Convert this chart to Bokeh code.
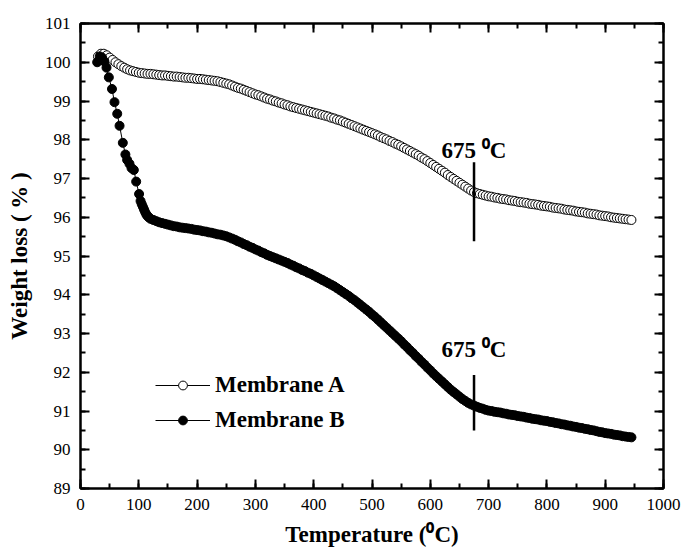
from bokeh.plotting import figure
from bokeh.models import (Range1d, LinearAxis, SingleIntervalTicker, Legend,
                          LegendItem, ColumnDataSource, CustomJSTickFormatter)
from bokeh.core.properties import value
from bokeh.embed import file_html
from bokeh.resources import INLINE

# ---------------- data ----------------
# Membrane A: sampled every 5 degC from 30 to 945 degC
a_temp = list(range(30, 950, 5))
a_loss = [
    100.15, 100.22, 100.22, 100.18, 100.12, 100.06, 100.00, 99.95, 99.90, 99.86,
    99.82, 99.79, 99.77, 99.75, 99.73, 99.72, 99.71, 99.70, 99.70, 99.69,
    99.68, 99.67, 99.66, 99.66, 99.65, 99.64, 99.63, 99.63, 99.62, 99.61,
    99.60, 99.60, 99.59, 99.58, 99.57, 99.57, 99.56, 99.55, 99.54, 99.53,
    99.52, 99.51, 99.49, 99.47, 99.45, 99.43, 99.40, 99.37, 99.34, 99.32,
    99.29, 99.26, 99.23, 99.20, 99.17, 99.15, 99.12, 99.09, 99.06, 99.04,
    99.01, 98.99, 98.96, 98.94, 98.91, 98.89, 98.86, 98.84, 98.82, 98.80,
    98.78, 98.76, 98.74, 98.72, 98.70, 98.68, 98.66, 98.64, 98.62, 98.60,
    98.57, 98.55, 98.52, 98.50, 98.47, 98.44, 98.41, 98.38, 98.35, 98.32,
    98.29, 98.26, 98.23, 98.20, 98.17, 98.14, 98.11, 98.07, 98.04, 98.01,
    97.97, 97.94, 97.90, 97.87, 97.83, 97.79, 97.75, 97.71, 97.67, 97.63,
    97.59, 97.54, 97.50, 97.45, 97.40, 97.35, 97.30, 97.25, 97.20, 97.15,
    97.09, 97.04, 96.99, 96.94, 96.89, 96.84, 96.79, 96.74, 96.69, 96.65,
    96.62, 96.60, 96.58, 96.56, 96.54, 96.53, 96.51, 96.50, 96.48, 96.47,
    96.46, 96.44, 96.43, 96.42, 96.40, 96.39, 96.38, 96.37, 96.35, 96.34,
    96.33, 96.32, 96.30, 96.29, 96.28, 96.27, 96.25, 96.24, 96.23, 96.22,
    96.20, 96.19, 96.18, 96.17, 96.15, 96.14, 96.13, 96.12, 96.10, 96.09,
    96.08, 96.07, 96.05, 96.04, 96.03, 96.02, 96.00, 95.99, 95.98, 95.97,
    95.96, 95.95, 95.94, 95.93,
]

# Membrane B: separate early points, then every 5 degC from 125 to 945 degC
b_temp_early = [28.6, 33, 37, 41, 44.6, 48.6, 54, 58.3, 63, 67,
                72.6, 77, 80, 84, 87.5, 91.5, 95.5, 100.5, 103, 105,
                107, 109, 111, 113, 115, 117, 120]
b_loss_early = [100.00, 100.15, 100.12, 100.02, 99.86, 99.61, 99.31, 98.97, 98.67, 98.36,
                97.92, 97.62, 97.48, 97.38, 97.27, 97.22, 96.92, 96.60, 96.42, 96.34,
                96.27, 96.20, 96.13, 96.07, 96.03, 96.00, 95.96]
b_temp_dense = list(range(125, 950, 5))
b_loss_dense = [
    95.93, 95.90, 95.87, 95.85, 95.83, 95.81, 95.79, 95.77, 95.76, 95.74,
    95.73, 95.72, 95.71, 95.70, 95.68, 95.67, 95.66, 95.64, 95.63, 95.61,
    95.60, 95.58, 95.56, 95.55, 95.53, 95.51, 95.48, 95.45, 95.42, 95.38,
    95.35, 95.31, 95.28, 95.24, 95.21, 95.17, 95.14, 95.10, 95.07, 95.03,
    95.00, 94.97, 94.94, 94.91, 94.88, 94.85, 94.82, 94.78, 94.75, 94.71,
    94.68, 94.64, 94.61, 94.57, 94.54, 94.50, 94.46, 94.42, 94.38, 94.34,
    94.30, 94.26, 94.22, 94.17, 94.12, 94.07, 94.02, 93.97, 93.91, 93.86,
    93.80, 93.74, 93.68, 93.62, 93.56, 93.49, 93.43, 93.36, 93.29, 93.22,
    93.15, 93.08, 93.01, 92.94, 92.87, 92.80, 92.72, 92.65, 92.57, 92.50,
    92.42, 92.35, 92.27, 92.20, 92.12, 92.05, 91.97, 91.90, 91.83, 91.76,
    91.69, 91.62, 91.55, 91.49, 91.43, 91.37, 91.31, 91.26, 91.21, 91.17,
    91.14, 91.11, 91.08, 91.06, 91.03, 91.01, 91.00, 90.98, 90.97, 90.96,
    90.94, 90.93, 90.91, 90.90, 90.89, 90.87, 90.86, 90.85, 90.83, 90.82,
    90.80, 90.79, 90.78, 90.76, 90.75, 90.74, 90.72, 90.71, 90.69, 90.68,
    90.66, 90.65, 90.63, 90.62, 90.60, 90.59, 90.57, 90.56, 90.54, 90.53,
    90.51, 90.50, 90.48, 90.46, 90.45, 90.43, 90.42, 90.41, 90.39, 90.38,
    90.37, 90.35, 90.34, 90.33, 90.32,
]
b_temp = b_temp_early + b_temp_dense
b_loss = b_loss_early + b_loss_dense

# 675 degC markers
mark_temp = [675, 675]
mark_top = [97.42, 91.93]
mark_bottom = [95.38, 90.50]
label_loss = [97.72, 92.58]
label_text = ["675 \u2070C", "675 \u2070C"]

series_names = ["Membrane A", "Membrane B"]

SERIF = "Liberation Serif"
BOLD_SIZE = "23px"

# ---------------- figure ----------------
p = figure(width=683, height=557, x_range=Range1d(0, 1000), y_range=Range1d(89, 101),
           output_backend="svg", toolbar_location=None,
           min_border_left=80, min_border_right=20, min_border_top=23, min_border_bottom=69,
           background_fill_color="white", border_fill_color="white")
p.grid.visible = False
p.outline_line_color = "black"
p.outline_line_width = 2

p.xaxis.ticker = SingleIntervalTicker(interval=100, num_minor_ticks=2)
p.yaxis.ticker = SingleIntervalTicker(interval=1, num_minor_ticks=2)
p.xaxis.axis_label = "Temperature (\u2070C)"
p.yaxis.axis_label = "Weight loss ( % )"

for ax in list(p.xaxis) + list(p.yaxis):
    ax.axis_line_width = 2
    ax.axis_line_color = "black"
    ax.major_tick_in = 9
    ax.major_tick_out = 0
    ax.minor_tick_in = 5
    ax.minor_tick_out = 0
    ax.major_tick_line_width = 2
    ax.minor_tick_line_width = 2
    ax.major_label_text_font = SERIF
    ax.major_label_text_font_size = "17px"
    ax.major_label_text_color = "black"
    ax.major_label_standoff = 10
    ax.axis_label_text_font = SERIF
    ax.axis_label_text_font_style = "bold"
    ax.axis_label_text_font_size = BOLD_SIZE
    ax.axis_label_text_color = "black"
p.xaxis.axis_label_standoff = 9
p.yaxis.axis_label_standoff = 10

blank = CustomJSTickFormatter(code="return ''")
for loc, ticker in (("above", SingleIntervalTicker(interval=100, num_minor_ticks=2)),
                    ("right", SingleIntervalTicker(interval=1, num_minor_ticks=2))):
    ax = LinearAxis(ticker=ticker, formatter=blank,
                    axis_line_width=2, major_tick_in=9, major_tick_out=0,
                    minor_tick_in=5, minor_tick_out=0,
                    major_tick_line_width=2, minor_tick_line_width=2,
                    major_label_standoff=0)
    p.add_layout(ax, loc)

src_a = ColumnDataSource(dict(t=a_temp, w=a_loss))
src_b = ColumnDataSource(dict(t=b_temp, w=b_loss))

la = p.line("t", "w", source=src_a, line_color="black", line_width=1)
sa = p.scatter("t", "w", source=src_a, marker="circle", size=9,
               fill_color="white", line_color="black", line_width=1)
lb = p.line("t", "w", source=src_b, line_color="black", line_width=1)
sb = p.scatter("t", "w", source=src_b, marker="circle", size=9,
               fill_color="black", line_color="black", line_width=1)

p.segment(x0=mark_temp, y0=mark_bottom, x1=mark_temp, y1=mark_top,
          line_color="black", line_width=2.5)
p.text(x=mark_temp, y=label_loss, text=label_text, text_font=value(SERIF),
       text_font_style="bold", text_font_size=BOLD_SIZE, text_align="center",
       text_baseline="alphabetic", text_color="black")

legend = Legend(items=[LegendItem(label=series_names[0], renderers=[la, sa]),
                       LegendItem(label=series_names[1], renderers=[lb, sb])],
                location=(75, 55), glyph_width=55, glyph_height=22, label_height=22,
                label_standoff=5, spacing=9, padding=0, margin=0,
                border_line_color=None, background_fill_alpha=0,
                label_text_font=SERIF, label_text_font_style="bold",
                label_text_font_size=BOLD_SIZE, label_text_color="black")
p.add_layout(legend)

open("out.html", "w").write(file_html(p, INLINE))
